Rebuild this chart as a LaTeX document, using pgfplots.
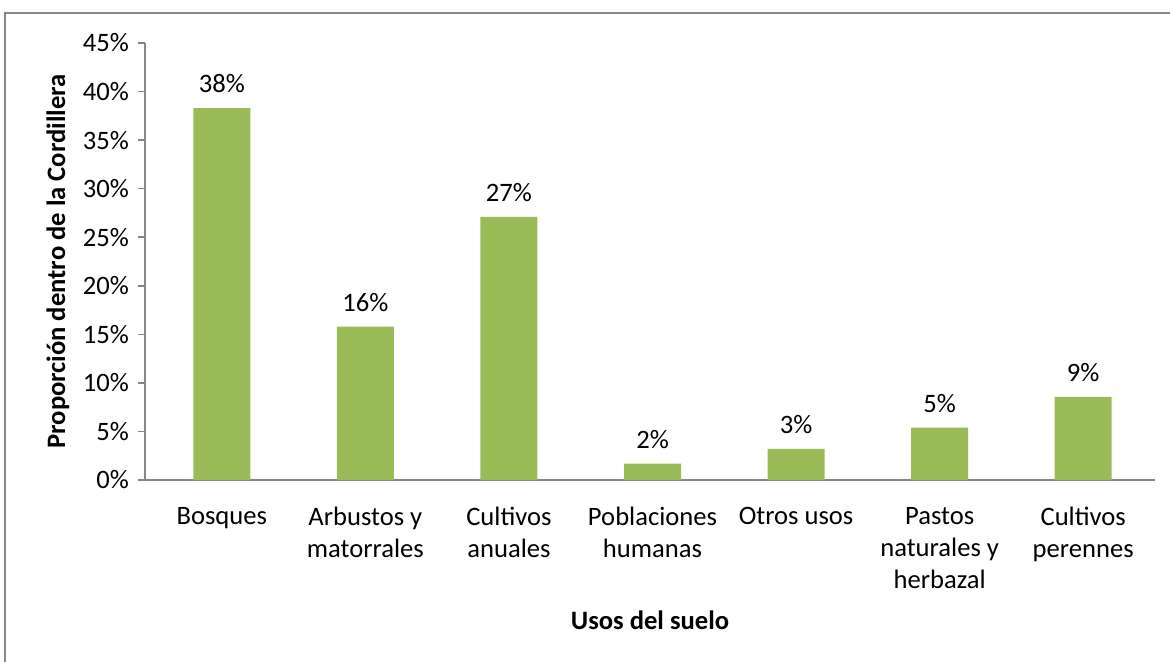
\documentclass[border=0pt]{standalone}
\usepackage{pgfplots}
\pgfplotsset{compat=1.18}
\usepackage{fontspec}
\setmainfont{Carlito}
\definecolor{barg}{HTML}{9BBB59}
\definecolor{axg}{HTML}{868686}
\begin{document}
\begin{tikzpicture}
\useasboundingbox (-72.5pt,-90.5pt) rectangle (512.5pt,240pt);
\draw[axg, line width=0.8pt] (-70pt,-100pt) -- (-70pt,233.5pt) -- (530pt,233.5pt);
\begin{axis}[
  at={(0,0)}, anchor=south west,
  scale only axis,
  width=505pt, height=218.5pt,
  font=\fontsize{13.3}{16}\selectfont,
  ymin=0, ymax=45,
  xmin=-0.535, xmax=6.5,
  ybar, bar width=28.5pt,
  axis x line*=bottom, axis y line*=left,
  axis line style={axg, line width=0.8pt},
  tick style={axg, line width=0.8pt},
  tick align=outside,
  major tick length=3.5pt,
  ytick={0,5,...,45},
  yticklabel={\pgfmathprintnumber{\tick}\%},
  /pgf/number format/assume math mode=true,
  xtick={0,...,6},
  major x tick style={draw=none},
  xticklabels={Bosques, {Arbustos y\\matorrales}, {Cultivos\\anuales}, {Poblaciones\\humanas}, {Otros usos}, {Pastos\\naturales y\\herbazal}, {Cultivos\\perennes}},
  xticklabel style={align=center, anchor=north, yshift=-6.5pt},
  yticklabel style={anchor=east, xshift=-1pt},
  xlabel={\bfseries Usos del suelo},
  ylabel={\bfseries Proporción dentro de la Cordillera},
  xlabel style={at={(axis description cs:0.5,0)}, anchor=center, yshift=-70pt},
  ylabel style={at={(axis description cs:0,0.5)}, anchor=center, rotate=0, xshift=0pt, yshift=43.5pt},
  nodes near coords={\pgfmathprintnumber[fixed,precision=0]{\pgfplotspointmeta}\%},
  nodes near coords style={anchor=south, yshift=4pt, text=black},
  every node near coord/.append style={/pgf/number format/assume math mode=true},
]
\addplot[fill=barg, draw=none] coordinates {
  (0,38.3) (1,15.8) (2,27.1) (3,1.7) (4,3.2) (5,5.4) (6,8.55)
};
\end{axis}
\end{tikzpicture}
\end{document}
